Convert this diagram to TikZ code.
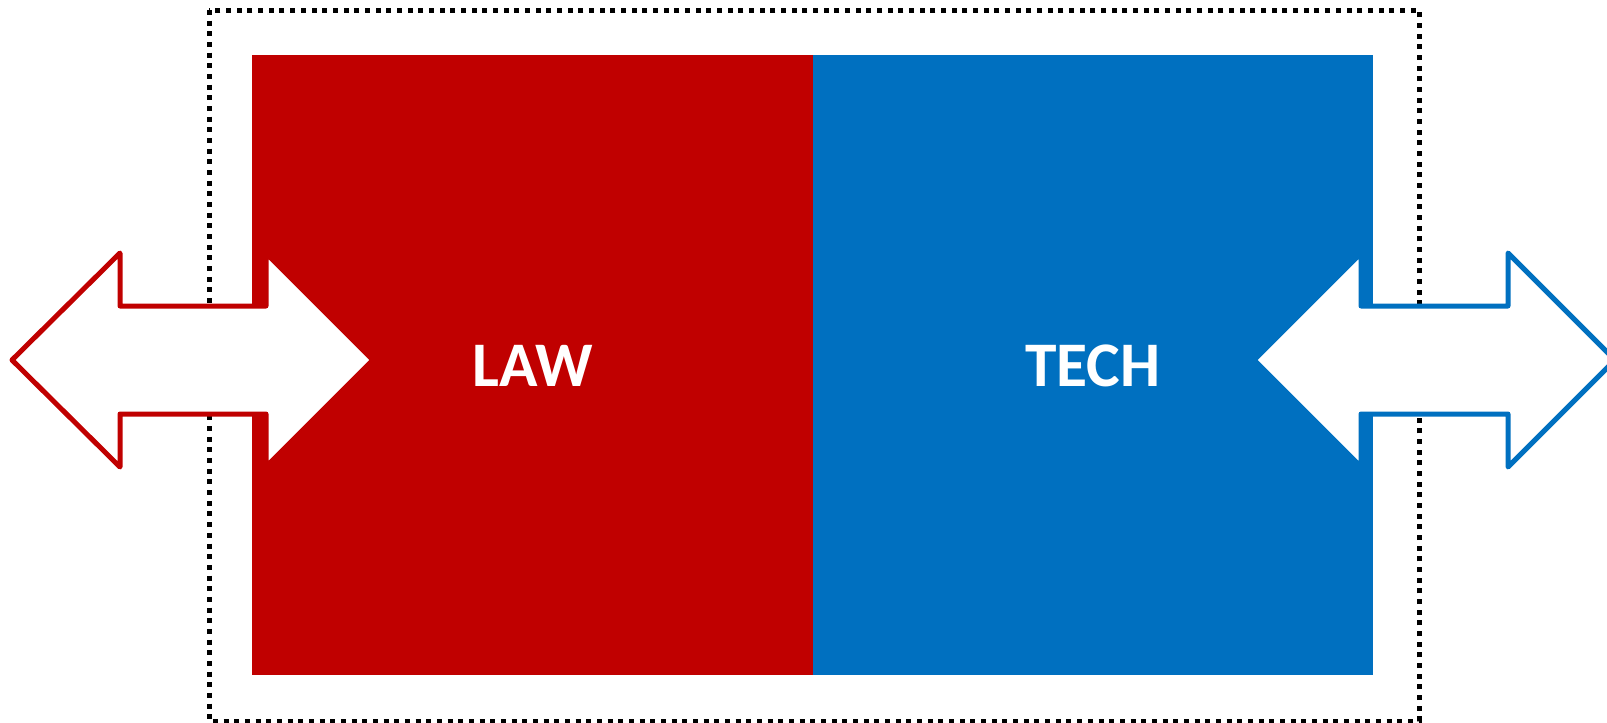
\documentclass[tikz,border=0pt]{standalone}
\usepackage{fontspec}
\setmainfont{Carlito}
\definecolor{lawred}{HTML}{C00000}
\definecolor{techblue}{HTML}{0070C0}
\begin{document}
\begin{tikzpicture}[x=1pt,y=-1pt,
  panel/.style={rectangle, draw=none, inner sep=0pt, minimum height=620pt,
    text=white, text depth=0pt, font=\fontsize{63.5}{70}\selectfont\bfseries},
  dblarrow/.style={fill=white, line width=5pt, line join=round},
  frame/.style={draw=black, line width=5pt, dash pattern=on 5pt off 5.67pt}]
\useasboundingbox (0,0) rectangle (1607,723);
% dotted frame
\draw[frame] (209,10) rectangle (1419,721);
% panels
\node[panel, fill=lawred, minimum width=561pt] (law) at (532.5,365) {\raisebox{-1.5pt}{LAW}};
\node[panel, fill=techblue, minimum width=560pt] (tech) at (1093,365) {\raisebox{-1.5pt}{TECH}};
% left double arrow
\draw[dblarrow, draw=lawred]
  (12,360) -- (120,253) -- (120,306) -- (266,306) -- (266,253) -- (373,360)
  -- (266,467) -- (266,414) -- (120,414) -- (120,467) -- cycle;
% right double arrow
\draw[dblarrow, draw=techblue]
  (1254,360) -- (1361,253) -- (1361,306) -- (1508,306) -- (1508,253) -- (1615,360)
  -- (1508,467) -- (1508,414) -- (1361,414) -- (1361,467) -- cycle;
\end{tikzpicture}
\end{document}
